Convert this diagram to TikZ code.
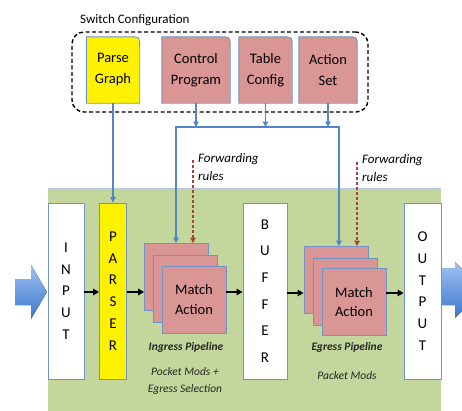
\documentclass[tikz,border=0pt]{standalone}
\usepackage{fontspec}
\setmainfont{Carlito}
\usetikzlibrary{arrows.meta,backgrounds}
\definecolor{pinkbox}{HTML}{D99694}
\definecolor{bord}{HTML}{7094C8}
\definecolor{wirec}{HTML}{5586C4}
\definecolor{greenbg}{HTML}{C3D69B}
\definecolor{greenedge}{HTML}{B7C8DC}
\definecolor{fwd}{HTML}{A8423E}
\definecolor{arrowA}{HTML}{A0C2F0}
\definecolor{arrowB}{HTML}{3A76CE}
\begin{document}
\begin{tikzpicture}[x=1pt,y=-1pt,
  cfgbox/.style={minimum width=#1, minimum height=66pt, inner sep=0pt, align=center, font=\fontsize{14.5}{21}\selectfont},
  procbox/.style={draw=bord, line width=0.9pt, fill=white, minimum width=#1, minimum height=176pt, inner sep=0pt, align=center, font=\fontsize{15}{21.7}\selectfont},
  mabox/.style={draw=bord, line width=0.9pt, fill=pinkbox, minimum width=64pt, minimum height=67pt, inner sep=0pt, align=center, font=\fontsize{14.5}{19.5}\selectfont},
  flow/.style={line width=1.6pt, -{Triangle[length=6pt,width=6.5pt]}},
  wireline/.style={draw=wirec, line width=1.4pt},
  wirearr/.style={wireline, -{Triangle[length=5.5pt,width=5.5pt]}},
  fwdarr/.style={draw=fwd, line width=1.1pt, dash pattern=on 3pt off 2pt, -{Triangle[length=5.5pt,width=5.5pt]}},
  lbl/.style={font=\fontsize{11.5}{17}\selectfont\itshape, text=black!85, align=center},
  fwdlbl/.style={anchor=west, font=\fontsize{13}{18.5}\selectfont\itshape, align=left, inner sep=0pt},
  bigarrow/.style={top color=arrowA, bottom color=arrowB, draw=none},
]
\clip (0,0) rectangle (462,410);
% green processing region
\fill[greenbg] (48,188) rectangle (441,412);
\draw[greenedge, line width=0.6pt] (48,188) -- (441,188);

% switch configuration
\node[anchor=west, font=\fontsize{13}{15}\selectfont, inner sep=0pt] (sclbl) at (80,20) {Switch Configuration};
\node[draw, line width=1.4pt, dash pattern=on 4pt off 2.5pt, rounded corners=12pt,
      minimum width=296pt, minimum height=80pt] (swcfg) at (220,72) {};
\node[cfgbox=53pt] (pg) at (113,70) {Parse\\Graph};
\node[cfgbox=68pt] (cp) at (196,70) {Control\\Program};
\node[cfgbox=53pt] (tc) at (265.5,70) {Table\\Config};
\node[cfgbox=58pt] (as) at (328,70) {Action\\Set};
\begin{scope}[on background layer]
\foreach \n/\c in {pg/yellow,cp/pinkbox,tc/pinkbox,as/pinkbox}
  \filldraw[fill=\c, draw=bord, line width=0.9pt] (\n.south west) -- (\n.north west)
    -- ([xshift=-10pt]\n.north east) .. controls (\n.north east) .. ([yshift=-10pt]\n.north east)
    -- (\n.south east) -- cycle;
\end{scope}

% processing stages
\node[procbox=36pt] (inp) at (66,291) {I\\N\\P\\U\\T};
\node[procbox=27pt, fill=yellow] (parser) at (113,291) {P\\A\\R\\S\\E\\R};
\node[procbox=44pt, font=\fontsize{15}{26.6}\selectfont] (buf) at (265,291) {B\\U\\F\\F\\E\\R};
\node[procbox=37pt] (outp) at (422.5,291) {O\\U\\T\\P\\U\\T};

% match-action stacks
\node[mabox] (ib1) at (176.5,277) {};
\node[mabox] (ib2) at (185.5,288.5) {};
\node[mabox] (ib3) at (194,299.5) {Match\\Action};
\node[mabox] (eb1) at (336,280) {};
\node[mabox] (eb2) at (345,291.5) {};
\node[mabox] (eb3) at (354,302) {Match\\Action};

% labels
\node[lbl, font=\fontsize{11.5}{17}\selectfont\bfseries\itshape] (ingl) at (186,347) {Ingress Pipeline};
\node[lbl] (ingm) at (185,380.5) {Pocket Mods +\\Egress Selection};
\node[lbl, font=\fontsize{11.5}{17}\selectfont\bfseries\itshape] (egl) at (347,347) {Egress Pipeline};
\node[lbl] (egm) at (347,376) {Packet Mods};

% packet flow
\coordinate (fy) at (0,292);
\draw[flow] (inp.east |- fy) -- (parser.west |- fy);
\draw[flow] (parser.east |- fy) -- (ib1.west |- fy);
\draw[flow] (ib3.east |- fy) -- (buf.west |- fy);
\coordinate (gy) at (0,293);
\draw[flow] (buf.east |- gy) -- (eb1.west |- gy);
\draw[flow] (eb3.east |- gy) -- (outp.west |- gy);

% configuration wires
\coordinate (busL) at (176,127);
\coordinate (busR) at (339,127);
\draw[wirearr] (pg.south) -- (pg.south |- parser.north);
\draw[wirearr] (cp.south) -- (cp.south |- busL);
\draw[wirearr] (tc.south) -- (tc.south |- busL);
\draw[wirearr] (as.south) -- (as.south |- busL);
\draw[wirearr] (busR) -- (busL) -- (busL |- ib1.north);
\draw[wirearr] (busL) -- (busR) -- (busR |- eb1.north);

% forwarding rules
\coordinate (fr1) at (193,160);
\coordinate (fr2) at (357,162);
\draw[fwdarr] (fr1) -- (fr1 |- ib1.north);
\draw[fwdarr] (fr2) -- (fr2 |- eb1.north);
\node[fwdlbl] (fl1) at (198,167) {Forwarding\\rules};
\node[fwdlbl] (fl2) at (362,168) {Forwarding\\rules};

% big in/out arrows
\fill[bigarrow] (15,279) -- (31,279) -- (31,265) -- (47,292) -- (31,319) -- (31,305) -- (15,305) -- cycle;
\fill[bigarrow] (442,268) -- (455,268) -- (455,262) -- (482,290) -- (455,318) -- (455,305) -- (442,305) -- cycle;
\end{tikzpicture}
\end{document}
